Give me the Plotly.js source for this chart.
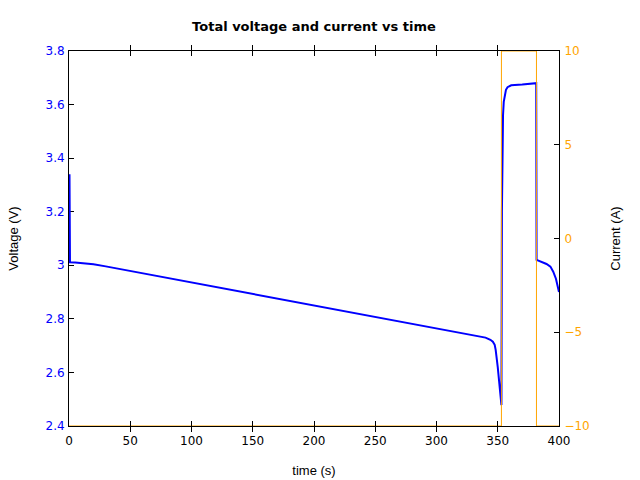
<!DOCTYPE html>
<html>
<head>
<meta charset="utf-8">
<script src="https://cdn.plot.ly/plotly-3.0.1.min.js"></script>
<style>html,body{margin:0;padding:0;background:#fff;}</style>
</head>
<body>
<div id="chart" style="width:640px;height:480px;"></div>
<script>
// Voltage vs time
const timeV = [0.4, 0.8, 5, 10, 20, 30, 50, 100, 150, 200, 250, 300, 327, 340, 344, 346, 347.5, 348.3, 350, 351.5, 352.5, 353, 353.4, 353.8, 354.3, 354.9, 355.6, 356.7, 358, 361, 370, 381.4, 381.7, 385, 389.8, 393, 395.3, 397.5, 400];
const voltage = [3.34, 3.011, 3.010, 3.008, 3.004, 2.996, 2.979, 2.935, 2.892, 2.850, 2.808, 2.766, 2.743, 2.730, 2.722, 2.715, 2.703, 2.684, 2.62, 2.55, 2.50, 2.478, 3.20, 3.45, 3.56, 3.61, 3.635, 3.655, 3.665, 3.672, 3.675, 3.680, 3.020, 3.013, 3.005, 2.995, 2.976, 2.950, 2.900];
// Current vs time
const timeI = [0, 353.0, 353.0, 381.6, 381.6, 400];
const current = [-10, -10, 10, 10, -10, -10];

const traces = [
  {x: timeI, y: current, type: 'scatter', mode: 'lines', name: 'Current',
   line: {color: '#FFA500', width: 1}, yaxis: 'y2'},
  {x: timeV, y: voltage, type: 'scatter', mode: 'lines', name: 'Voltage',
   line: {color: '#0000FF', width: 2}, yaxis: 'y'}
];

const tickFont = {family: 'DejaVu Sans', size: 12};
const layout = {
  width: 640, height: 480,
  margin: {l: 69, r: 81, t: 51, b: 54},
  paper_bgcolor: '#fff', plot_bgcolor: '#fff',
  showlegend: false,
  title: {text: 'Total voltage and current vs time', x: 0.5, xref: 'paper', y: 0.944, yanchor: 'middle',
          font: {family: 'DejaVu Sans', size: 13, color: '#000', weight: 'bold'}},
  xaxis: {range: [0, 400], tickvals: [0, 50, 100, 150, 200, 250, 300, 350, 400],
          ticks: 'inside', ticklen: 5, tickcolor: '#000', showline: true, linecolor: '#000', linewidth: 1,
          mirror: 'allticks', showgrid: false, zeroline: false, ticklabelstandoff: 4,
          tickfont: Object.assign({color: '#000'}, tickFont),
          title: {text: 'time (s)', font: {family: 'Liberation Sans', size: 13, color: '#000'}, standoff: 18}},
  yaxis: {range: [2.4, 3.8], tickvals: [2.4, 2.6, 2.8, 3.0, 3.2, 3.4, 3.6, 3.8], layer: 'below traces',
          ticks: 'inside', ticklen: 5, tickcolor: '#000', showline: true, linecolor: '#000', linewidth: 1,
          showgrid: false, zeroline: false, ticklabelstandoff: 1,
          tickfont: Object.assign({color: '#0000FF'}, tickFont),
          title: {text: 'Voltage (V)', font: {family: 'Liberation Sans', size: 13, color: '#000'}, standoff: 23}},
  yaxis2: {range: [-10, 10], tickvals: [-10, -5, 0, 5, 10], overlaying: 'y', side: 'right', layer: 'below traces',
          ticks: 'inside', ticklen: 5, tickcolor: '#000', showline: true, linecolor: '#000', linewidth: 1,
          showgrid: false, zeroline: false, ticklabelstandoff: 2,
          tickfont: Object.assign({color: '#FFA500'}, tickFont),
          title: {text: 'Current (A)', font: {family: 'Liberation Sans', size: 13, color: '#000'}, standoff: 22}}
};

Plotly.newPlot('chart', traces, layout, {displayModeBar: false, staticPlot: true});
</script>
</body>
</html>
